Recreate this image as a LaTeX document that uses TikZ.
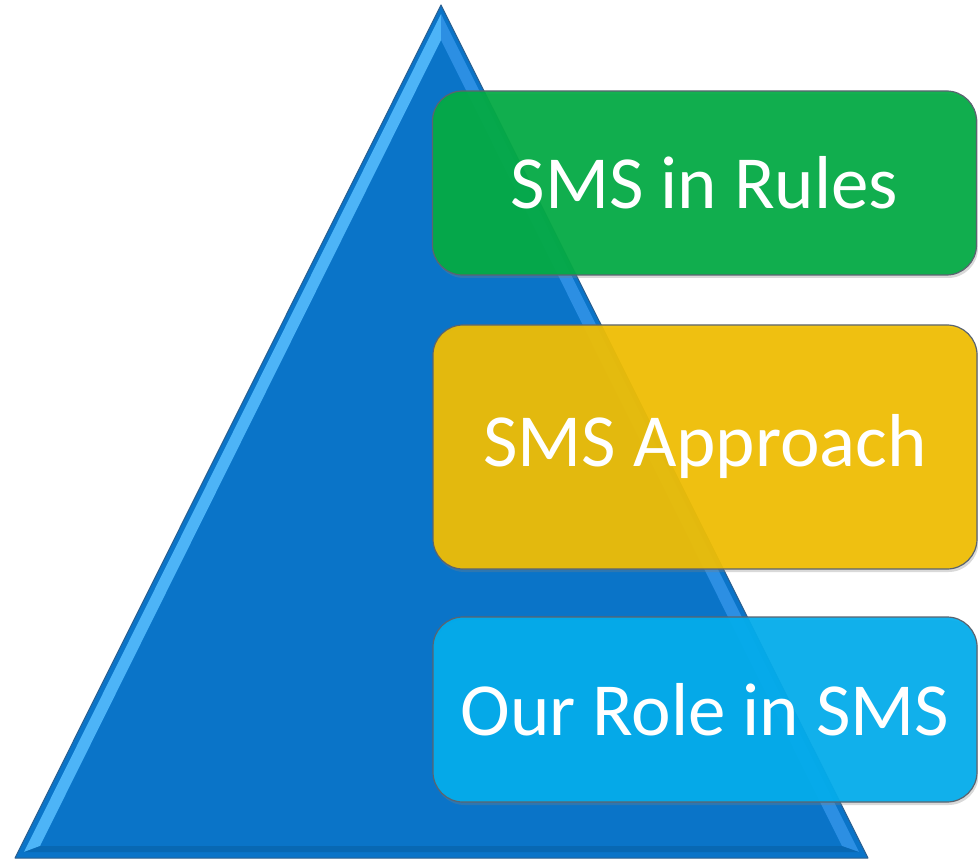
\documentclass[tikz,border=0pt]{standalone}
\usepackage{fontspec}
\setmainfont{Carlito}
\usepackage{tikz}
\usetikzlibrary{shadows}
\definecolor{pyrblue}{HTML}{0A74C8}
\definecolor{pyrlight}{HTML}{4DB4F7}
\definecolor{pyrside}{HTML}{2C8FE3}
\definecolor{pyredge}{HTML}{2B5F8F}
\definecolor{boxgreen}{HTML}{02AB43}
\definecolor{boxyellow}{HTML}{F1BF02}
\definecolor{boxcyan}{HTML}{02ADED}
\definecolor{boxedge}{HTML}{5A6470}

\begin{document}
\begin{tikzpicture}[x=1pt,y=-1pt,
  levelbox/.style={draw=boxedge, line width=1.2pt, rounded corners=30pt,
    minimum width=544pt, text=white, fill opacity=0.93, text opacity=1,
    font=\fontsize{75}{90}\selectfont,
    drop shadow={opacity=0.3,shadow xshift=1.5pt,shadow yshift=-3pt}}]
\useasboundingbox (0,0) rectangle (978,861);
% pyramid
\coordinate (top) at (441,5);
\coordinate (bl) at (15,858);
\coordinate (br) at (868,858);
\fill[pyrblue] (top) -- (bl) -- (br) -- cycle;
\fill[pyrlight] (441,14) -- (24,852) -- (40,846) -- (441,40) -- cycle;
\fill[pyrside] (441,14) -- (859,852) -- (842,846) -- (441,40) -- cycle;
\fill[pyrblue!80!black, opacity=0.5] (40,846) -- (842,846) -- (859,852) -- (24,852) -- cycle;
\draw[pyredge, line width=1pt, line join=round] (top) -- (bl) -- (br) -- cycle;
% levels
\node[levelbox, fill=boxgreen, minimum height=184pt] (rules) at (704.5,183) {SMS in Rules};
\node[levelbox, fill=boxyellow, minimum height=244pt] (approach) at (705,447) {SMS Approach};
\node[levelbox, fill=boxcyan, minimum height=185pt] (role) at (705,709.5) {Our Role in SMS};
\end{tikzpicture}
\end{document}
